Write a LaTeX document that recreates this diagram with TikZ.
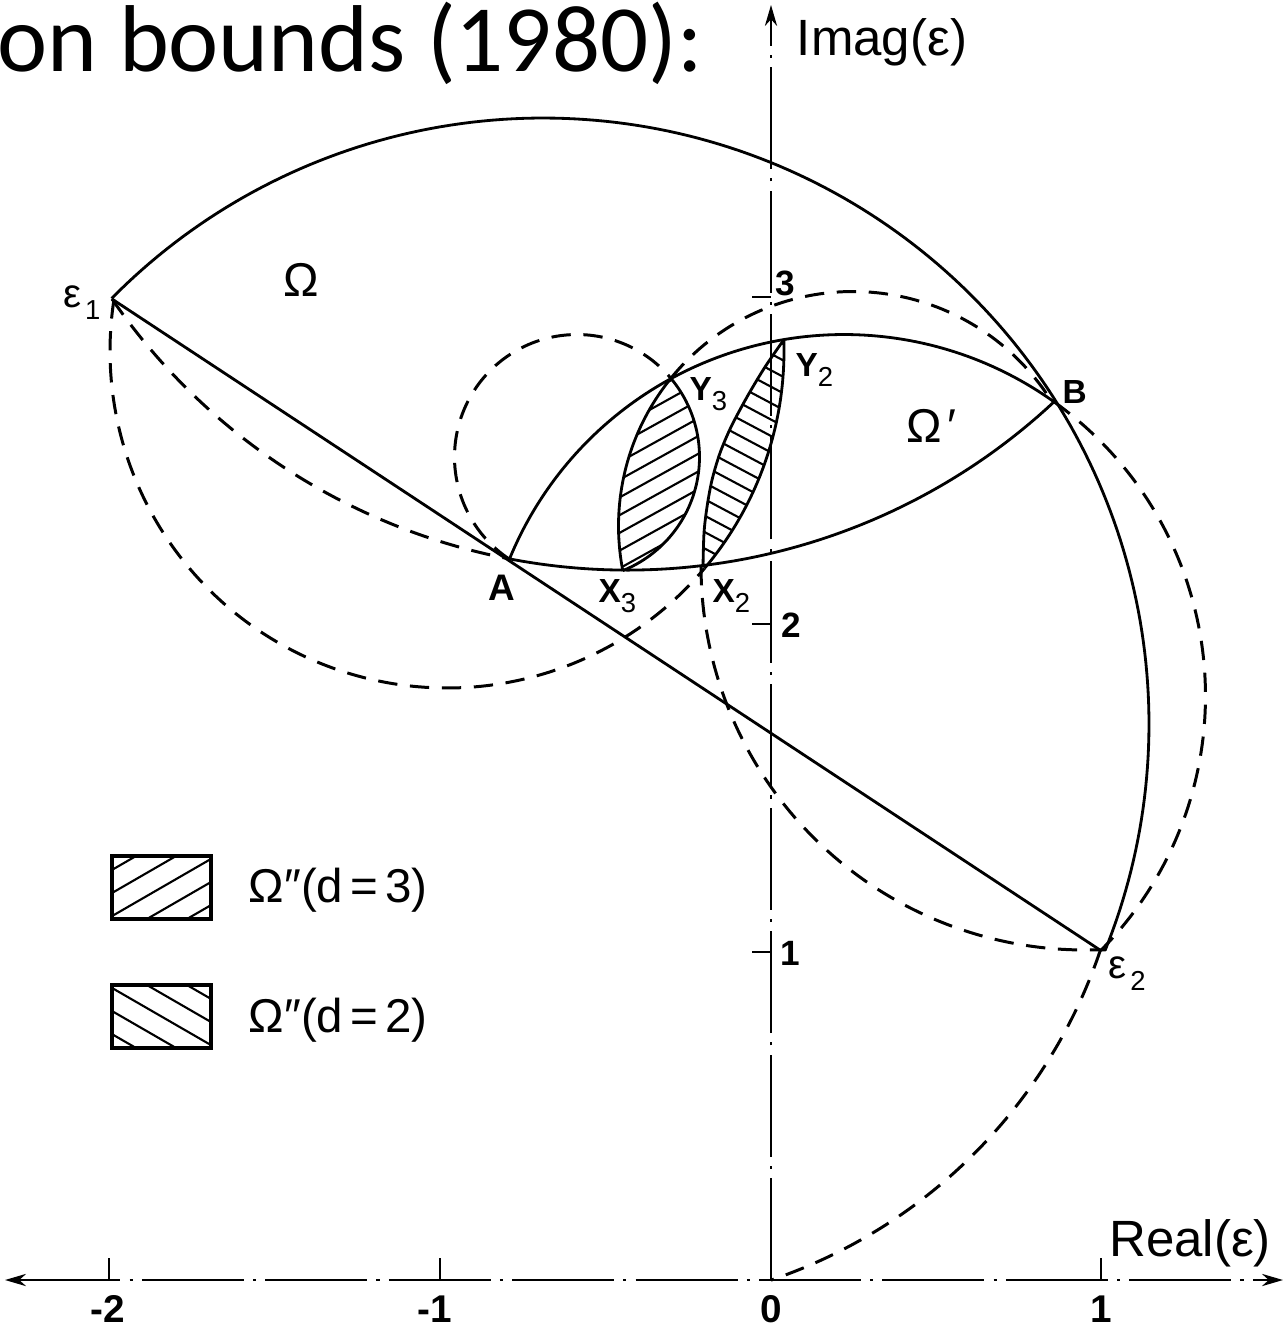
\documentclass[tikz,border=0pt]{standalone}
\usepackage{fontspec}
\setmainfont{Liberation Sans}
\newfontfamily\titlefont{Carlito}
\usetikzlibrary{arrows.meta}
\newcommand\mysub[1]{\raisebox{-0.3em}{\fontsize{7.8}{8}\selectfont\mdseries #1}}
\begin{document}
\begin{tikzpicture}[x=0.01cm, y=-0.01cm,
  solidcurve/.style={line width=0.8pt, line join=round},
  dashcurve/.style={line width=0.85pt, dash pattern=on 5.5pt off 3.6pt},
  axisline/.style={line width=0.45pt, dash pattern=on 29pt off 2.6pt on 0.9pt off 2.6pt},
  tickline/.style={line width=0.5pt},
  hatchline/.style={line width=0.6pt},
  legbox/.style={draw, line width=0.9pt, minimum width=0.99cm, minimum height=0.63cm, inner sep=0pt},
  bl/.style={inner sep=0pt, anchor=base west, font=\fontsize{9.5}{10}\selectfont\bfseries},
  eps/.style={inner sep=0pt, anchor=base west, font=\fontsize{11.5}{12}\selectfont},
  omg/.style={inner sep=0pt, anchor=base west, font=\fontsize{13.5}{14}\selectfont},
  ticklbl/.style={inner sep=0pt, font=\fontsize{10}{10}\selectfont\bfseries},
  axnum/.style={inner sep=0pt, font=\fontsize{11}{11}\selectfont\bfseries},
  axlbl/.style={inner sep=0pt, font=\fontsize{14.5}{16}\selectfont},
  legtext/.style={inner sep=0pt, anchor=west, font=\fontsize{13.5}{15}\selectfont},
  myarrow/.tip={Stealth[length=6pt,width=3.5pt]}
]
\useasboundingbox (0,0) rectangle (1288,1326);
\fill[white] (0,0) rectangle (1288,1326);

% key points
\coordinate (e1) at (112,299);
\coordinate (e2) at (1100,950);
\coordinate (A) at (510,559);
\coordinate (B) at (1055,401);
\coordinate (X3) at (623,571);
\coordinate (X2) at (703,567);
\coordinate (Y3) at (671,378);
\coordinate (Y2) at (784,339.5);
\coordinate (O) at (771,1280);
\coordinate (Itop) at (771,5);
\coordinate (Rl) at (5,1280);
\coordinate (Rr) at (1283,1280);

% title
\node[anchor=base west, inner sep=0pt, font=\fontsize{27}{30}\titlefont] (title) at (-3,71) {on bounds (1980):};

% axes
\draw[axisline, -{myarrow}] (O) -- (Itop);
\draw[axisline, {myarrow}-{myarrow}] (Rl) -- (Rr);
\foreach \xx in {109,440,1101} \draw[tickline] (\xx,1280) -- (\xx,1258);
\foreach \yy in {297,624,952} \draw[tickline] (752,\yy) -- (771,\yy);
\node[axnum] (m2) at (108,1309) {-2};
\node[axnum] (m1) at (435,1309) {-1};
\node[axnum] (z0) at (771,1309) {0};
\node[axnum] (p1) at (1101,1309) {1};
\node[ticklbl] (i3) at (785,283) {3};
\node[ticklbl] (i2) at (791,625) {2};
\node[ticklbl] (i1) at (790,953) {1};
\node[axlbl] (imag) at (882,42) {Imag(ε)};
\node[axlbl] (real) at (1190,1243) {Real(ε)};

% hatching of the lenses
\begin{scope}
\clip plot[domain=168.93:219.11, samples=40] ({853+234.5*cos(\x)},{526+234.5*sin(\x)})
   -- plot[domain=-40.04:68.03, samples=60] ({577+122.5*cos(\x)},{457+122.5*sin(\x)}) -- cycle;
\foreach \t in {-16,...,16}
  \draw[hatchline] ({660+15.5*\t*sin(29)-250*cos(29)},{475+15.5*\t*cos(29)+250*sin(29)})
                -- ({660+15.5*\t*sin(29)+250*cos(29)},{475+15.5*\t*cos(29)-250*sin(29)});
\end{scope}
\begin{scope}
\clip plot[domain=-1.96:40.16, samples=60] ({447+337*cos(\x)},{351+337*sin(\x)})
   -- plot[smooth] coordinates {(703,567) (704,533) (707,507) (712,480) (720,453) (731,427) (747,397) (765,367) (784,339.5)} -- cycle;
\foreach \t in {-20,...,20}
  \draw[hatchline] ({745-14.5*\t*sin(28)-250*cos(28)},{455+14.5*\t*cos(28)-250*sin(28)})
                -- ({745-14.5*\t*sin(28)+250*cos(28)},{455+14.5*\t*cos(28)+250*sin(28)});
\end{scope}

% solid curves
\draw[solidcurve] (e1) -- (e2);
\draw[solidcurve] plot[domain=-135.4:21.9, samples=160] ({543+606*cos(\x)},{724+606*sin(\x)}) -- (e2);
\draw[solidcurve] plot[domain=-157.69:-54.43, samples=100] ({844+361.5*cos(\x)},{696+361.5*sin(\x)});
\draw[solidcurve] plot[domain=46.85:100.81, samples=100] ({627.3+625.3*cos(\x)},{-55.2+625.3*sin(\x)});
\draw[solidcurve] plot[domain=-1.96:40.16, samples=60] ({447+337*cos(\x)},{351+337*sin(\x)});
\draw[solidcurve] plot[smooth] coordinates {(703,567) (704,533) (707,507) (712,480) (720,453) (731,427) (747,397) (765,367) (784,339.5)};
\draw[solidcurve] plot[domain=-40.04:68.03, samples=60] ({577+122.5*cos(\x)},{457+122.5*sin(\x)});
\draw[solidcurve] plot[domain=168.93:219.11, samples=40] ({853+234.5*cos(\x)},{526+234.5*sin(\x)});

% dashed curves
\draw[dashcurve] plot[domain=-54.43:44.77, samples=100] ({844+361.5*cos(\x)},{696+361.5*sin(\x)});
\draw[dashcurve] plot[domain=145.50:100.81, samples=80] ({627.3+625.3*cos(\x)},{-55.2+625.3*sin(\x)});
\draw[dashcurve] plot[domain=188.82:40.16, samples=140] ({447+337*cos(\x)},{351+337*sin(\x)});
\draw[dashcurve] plot[domain=180:87.76, samples=80] ({1085+384*cos(\x)},{566+384*sin(\x)});
\draw[dashcurve] plot[domain=123.30:319.96, samples=100] ({577+122.5*cos(\x)},{457+122.5*sin(\x)});
\draw[dashcurve] plot[domain=-140.89:-31.75, samples=80] ({853+234.5*cos(\x)},{526+234.5*sin(\x)});
\draw[dashcurve] plot[domain=18.64:71.26, samples=80] ({602+526*cos(\x)},{782+526*sin(\x)});

% point labels
\node[bl, font=\fontsize{10.5}{11}\selectfont\bfseries] (tA) at (488,600) {A};
\node[bl] (tB) at (1062,403) {B};
\node[bl] (tX3) at (598,602) {X\mysub{3}};
\node[bl] (tX2) at (712,602) {X\mysub{2}};
\node[bl] (tY3) at (689,400) {Y\mysub{3}};
\node[bl] (tY2) at (795,376) {Y\mysub{2}};
\node[eps] (te1) at (63,307) {ε\kern1pt\mysub{1}};
\node[eps] (te2) at (1108,978) {ε\kern1pt\mysub{2}};
\node[omg] (tOm) at (283,296) {Ω};
\node[omg] (tOmp) at (906,442) {Ω\kern1.5pt′};

% legend
\node[legbox] (k3) at (161.5,887.5) {};
\node[legbox] (k2) at (161.5,1016.5) {};
\begin{scope}
\clip (k3.south west) rectangle (k3.north east);
\foreach \t in {-6,...,6}
  \draw[hatchline] ({161.5+20*\t*sin(30)-150*cos(30)},{887.5+20*\t*cos(30)+150*sin(30)})
                -- ({161.5+20*\t*sin(30)+150*cos(30)},{887.5+20*\t*cos(30)-150*sin(30)});
\end{scope}
\begin{scope}
\clip (k2.south west) rectangle (k2.north east);
\foreach \t in {-6,...,6}
  \draw[hatchline] ({161.5-20*\t*sin(30)-150*cos(30)},{1016.5+20*\t*cos(30)-150*sin(30)})
                -- ({161.5-20*\t*sin(30)+150*cos(30)},{1016.5+20*\t*cos(30)+150*sin(30)});
\end{scope}
\node[legtext] (t3) at (248,890) {Ω″(d\kern2pt=\kern2pt3)};
\node[legtext] (t2) at (248,1020) {Ω″(d\kern2pt=\kern2pt2)};
\end{tikzpicture}
\end{document}
